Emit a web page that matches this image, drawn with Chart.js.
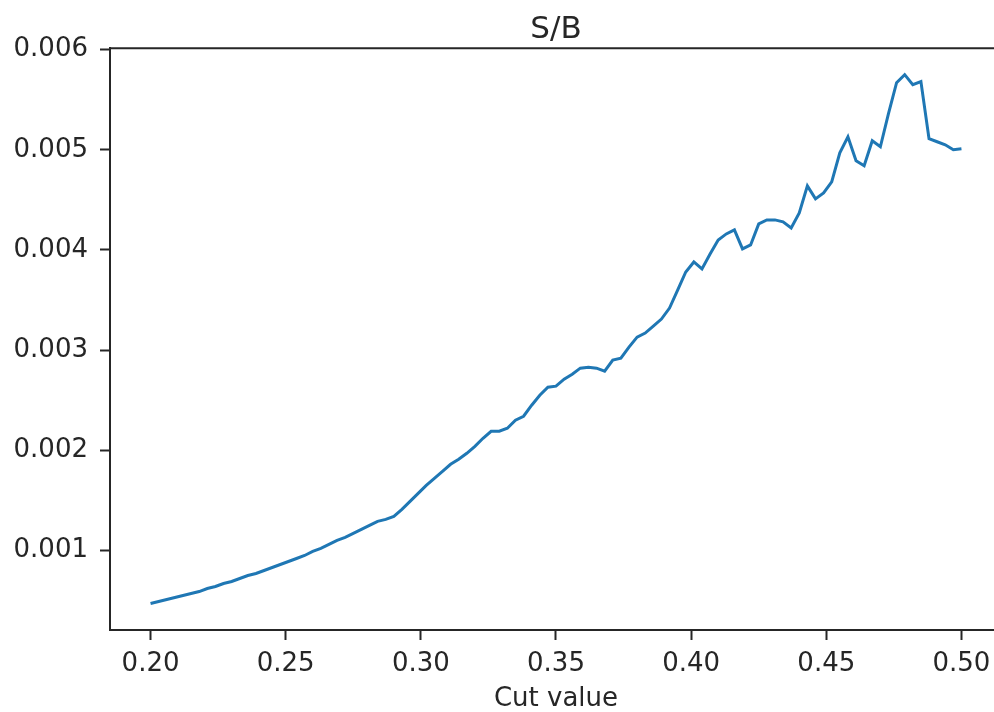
<!DOCTYPE html>
<html>
<head>
<meta charset="utf-8">
<title>S/B vs cut value</title>
<script src="https://cdn.jsdelivr.net/npm/chart.js@4.4.1/dist/chart.umd.min.js"></script>
<style>
  html, body { margin: 0; padding: 0; background: #fff; overflow: hidden; }
  #wrap { width: 994px; height: 712px; overflow: hidden; }
</style>
</head>
<body>
<div id="wrap"><canvas id="sbChart" width="1010" height="712"></canvas></div>
<script>
// cut scan: 0.200 -> 0.500 in steps of 0.003
const cutValues = [
  0.200, 0.203, 0.206, 0.209, 0.212, 0.215, 0.218, 0.221, 0.224, 0.227,
  0.230, 0.233, 0.236, 0.239, 0.242, 0.245, 0.248, 0.251, 0.254, 0.257,
  0.260, 0.263, 0.266, 0.269, 0.272, 0.275, 0.278, 0.281, 0.284, 0.287,
  0.290, 0.293, 0.296, 0.299, 0.302, 0.305, 0.308, 0.311, 0.314, 0.317,
  0.320, 0.323, 0.326, 0.329, 0.332, 0.335, 0.338, 0.341, 0.344, 0.347,
  0.350, 0.353, 0.356, 0.359, 0.362, 0.365, 0.368, 0.371, 0.374, 0.377,
  0.380, 0.383, 0.386, 0.389, 0.392, 0.395, 0.398, 0.401, 0.404, 0.407,
  0.410, 0.413, 0.416, 0.419, 0.422, 0.425, 0.428, 0.431, 0.434, 0.437,
  0.440, 0.443, 0.446, 0.449, 0.452, 0.455, 0.458, 0.461, 0.464, 0.467,
  0.470, 0.473, 0.476, 0.479, 0.482, 0.485, 0.488, 0.491, 0.494, 0.497,
  0.500
];

// signal over background for each cut
const sbValues = [
  0.00047, 0.00049, 0.00051, 0.00053, 0.00055, 0.00057, 0.00059, 0.00062, 0.00064, 0.00067,
  0.00069, 0.00072, 0.00075, 0.00077, 0.00080, 0.00083, 0.00086, 0.00089, 0.00092, 0.00095,
  0.00099, 0.00102, 0.00106, 0.00110, 0.00113, 0.00117, 0.00121, 0.00125, 0.00129, 0.00131,
  0.00134, 0.00141, 0.00149, 0.00157, 0.00165, 0.00172, 0.00179, 0.00186, 0.00191, 0.00197,
  0.00204, 0.00212, 0.00219, 0.00219, 0.00222, 0.00230, 0.00234, 0.00245, 0.00255, 0.00263,
  0.00264, 0.00271, 0.00276, 0.00282, 0.00283, 0.00282, 0.00279, 0.00290, 0.00292, 0.00303,
  0.00313, 0.00317, 0.00324, 0.00331, 0.00342, 0.00360, 0.00378, 0.00388, 0.00381, 0.00396,
  0.00410, 0.00416, 0.00420, 0.00401, 0.00405, 0.00426, 0.00430, 0.00430, 0.00428, 0.00422,
  0.00437, 0.00464, 0.00451, 0.00457, 0.00468, 0.00497, 0.00513, 0.00489, 0.00484, 0.00509,
  0.00503, 0.00536, 0.00567, 0.00575, 0.00565, 0.00568, 0.00511, 0.00508, 0.00505, 0.00500,
  0.00501
];

const xTicks = [0.20, 0.25, 0.30, 0.35, 0.40, 0.45, 0.50];
const yTicks = [0.001, 0.002, 0.003, 0.004, 0.005, 0.006];

const FONT = 'DejaVu Sans';
const INK = '#262626';

// top spine of the axes box (left/bottom come from the scale borders)
const frame = {
  id: 'frame',
  afterDraw(chart) {
    const { ctx, chartArea: a } = chart;
    ctx.save();
    ctx.strokeStyle = INK;
    ctx.lineWidth = 2;
    ctx.beginPath();
    ctx.moveTo(a.left - 1, a.top);
    ctx.lineTo(a.right, a.top);
    ctx.stroke();
    ctx.restore();
  }
};

const sbConfig = {
  type: 'line',
  data: {
    datasets: [{
      label: 'S/B',
      data: cutValues.map((x, i) => ({ x: x, y: sbValues[i] })),
      borderColor: '#1f77b4',
      borderWidth: 3,
      pointRadius: 0,
      tension: 0,
      fill: false
    }]
  },
  options: {
    responsive: false,
    animation: false,
    devicePixelRatio: 1,
    layout: { padding: { left: 0, right: 8, top: 0, bottom: 0 } },
    scales: {
      x: {
        type: 'linear',
        min: 0.185,
        max: 0.515,
        afterBuildTicks: axis => { axis.ticks = xTicks.map(v => ({ value: v })); },
        afterFit: scale => { scale.height = 82; },
        grid: { drawOnChartArea: false, drawTicks: true, tickLength: 10, tickWidth: 2, tickColor: INK },
        border: { display: true, color: INK, width: 2 },
        ticks: {
          color: INK,
          font: { family: FONT, size: 26 },
          padding: 9,
          maxRotation: 0,
          autoSkip: false,
          callback: v => v.toFixed(2)
        },
        title: {
          display: true,
          text: 'Cut value',
          color: INK,
          font: { family: FONT, size: 26, lineHeight: 1.0 },
          padding: { top: 0, bottom: 0 }
        }
      },
      y: {
        type: 'linear',
        min: 0.000206,
        max: 0.006014,
        afterBuildTicks: axis => { axis.ticks = yTicks.map(v => ({ value: v })); },
        afterFit: scale => { scale.width = 110; },
        grid: { drawOnChartArea: false, drawTicks: true, tickLength: 10, tickWidth: 2, tickColor: INK },
        border: { display: true, color: INK, width: 2 },
        ticks: {
          color: INK,
          font: { family: FONT, size: 26 },
          padding: 12,
          callback: v => v.toFixed(3)
        }
      }
    },
    plugins: {
      legend: { display: false },
      tooltip: { enabled: false },
      title: {
        display: true,
        text: 'S/B',
        fullSize: false,
        color: INK,
        font: { family: FONT, size: 31, weight: 'normal' },
        padding: { top: 11, bottom: 0 }
      }
    }
  },
  plugins: [frame]
};

new Chart(document.getElementById('sbChart'), sbConfig);
</script>
</body>
</html>
